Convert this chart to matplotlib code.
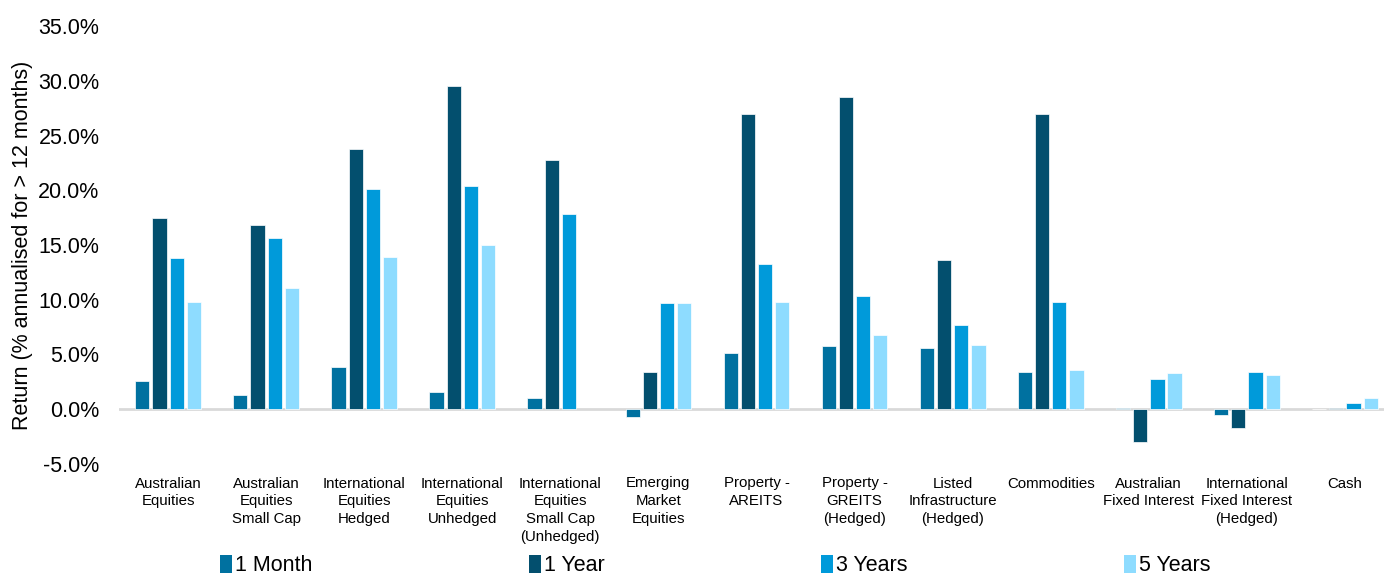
import numpy as np
import matplotlib.pyplot as plt
from matplotlib.patches import Patch

plt.rcParams['font.family'] = ['Liberation Sans', 'DejaVu Sans']

categories = ["Australian\nEquities", "Australian\nEquities\nSmall Cap", "International\nEquities\nHedged",
              "International\nEquities\nUnhedged", "International\nEquities\nSmall Cap\n(Unhedged)",
              "Emerging\nMarket\nEquities", "Property -\nAREITS", "Property -\nGREITS\n(Hedged)",
              "Listed\nInfrastructure\n(Hedged)", "Commodities", "Australian\nFixed Interest",
              "International\nFixed Interest\n(Hedged)", "Cash"]
series_names = ["1 Month", "1 Year", "3 Years", "5 Years"]
one_month = [2.6, 1.3, 3.9, 1.6, 1.0, -0.7, 5.1, 5.8, 5.6, 3.4, 0.1, -0.5, 0.0]
one_year = [17.5, 16.8, 23.8, 29.5, 22.8, 3.4, 27.0, 28.5, 13.6, 27.0, -3.0, -1.7, 0.1]
three_years = [13.8, 15.6, 20.1, 20.4, 17.8, 9.7, 13.3, 10.3, 7.7, 9.8, 2.8, 3.4, 0.6]
five_years = [9.8, 11.1, 13.9, 15.0, np.nan, 9.7, 9.8, 6.8, 5.9, 3.6, 3.3, 3.1, 1.0]
yticks = [-5, 0, 5, 10, 15, 20, 25, 30, 35]

colors = ["#0071A0", "#034F6E", "#009ADA", "#8EDCFF"]
all_series = [one_month, one_year, three_years, five_years]

fig = plt.figure(figsize=(13.84, 5.76), dpi=100)
ax = fig.add_axes([119 / 1384, (576 - 464) / 576, 1275 / 1384, 438 / 576])

x = np.arange(len(categories))
slot = 0.175
bw = 0.145
for i, (vals, c) in enumerate(zip(all_series, colors)):
    ax.bar(x + (i - 1.5) * slot, vals, width=bw, color=c, edgecolor="#ffffff", linewidth=0.5, zorder=2)

ax.axhline(0, color="#D9D9D9", lw=2, zorder=1)
ax.set_xlim(-0.5, len(categories) - 0.5)
ax.set_ylim(-5, 35)
ax.set_yticks(yticks)
ax.set_yticklabels([f"{v:.1f}%" for v in yticks], fontsize=15.5)
ax.set_xticks(x)
ax.set_xticklabels(categories, fontsize=10.8, linespacing=1.35)
ax.tick_params(axis='y', length=0, pad=14)
ax.tick_params(axis='x', length=0, pad=9)
for s in ax.spines.values():
    s.set_visible(False)
ax.set_ylabel("Return (% annualised for > 12 months)", fontsize=15.5, labelpad=4)

# legend along the bottom, columns spaced out like the original
handles = [Patch(facecolor=c) for c in colors]
fig.legend(handles, series_names, loc="lower left", bbox_to_anchor=(217 / 1384, -0.006),
           ncol=4, frameon=False, fontsize=15.5, handlelength=0.55, handleheight=0.9,
           handletextpad=0.15, borderpad=0.0, borderaxespad=0.15, columnspacing=10.05)

fig.savefig("out.png", dpi=100)
